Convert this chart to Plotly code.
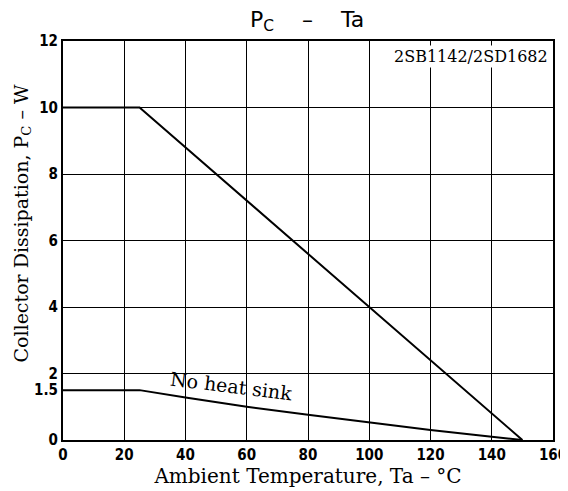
import plotly.graph_objects as go

# Data
temp_heatsink = [0, 25, 150]
pc_heatsink = [10, 10, 0]

temp_noheat = [0, 25, 40, 60, 80, 100, 120, 140, 150]
pc_noheat = [1.5, 1.5, 1.28, 1.0, 0.76, 0.52, 0.3, 0.1, 0]

x_ticks = [0, 20, 40, 60, 80, 100, 120, 140, 160]
y_grid = [0, 2, 4, 6, 8, 10, 12]
y_extra_label = 1.5

fig = go.Figure()
fig.add_trace(go.Scatter(x=temp_heatsink, y=pc_heatsink, mode="lines",
                         line=dict(color="black", width=2), showlegend=False))
fig.add_trace(go.Scatter(x=temp_noheat, y=pc_noheat, mode="lines",
                         line=dict(color="black", width=2), showlegend=False))

tickfont = dict(family="DejaVu Sans Condensed, Liberation Sans Narrow, Liberation Sans",
                size=15, color="black", weight="bold")
serif = "DejaVu Serif"

# page body has an 8px margin, so the figure is sized to fit inside it
fig.update_layout(
    width=560, height=483,
    margin=dict(l=55, r=15, t=33, b=51),
    paper_bgcolor="white", plot_bgcolor="white",
    title=dict(text="P<sub>C</sub>    –    Ta", x=0.534, xanchor="center",
               y=1 - 11 / 483, yanchor="middle", yref="container",
               font=dict(family="DejaVu Sans", size=22, color="black")),
    xaxis=dict(range=[0, 160], tickvals=x_ticks, showgrid=True, gridcolor="black", gridwidth=1.4,
               showline=True, linecolor="black", linewidth=2, mirror=True, zeroline=False,
               ticks="", tickfont=tickfont, automargin=False, ticklabeloverflow="allow",
               title=dict(text="Ambient Temperature, Ta – °C", standoff=4,
                          font=dict(family=serif, size=20, color="black"))),
    yaxis=dict(range=[0, 12], tickvals=y_grid, showgrid=True, gridcolor="black", gridwidth=1.4,
               showline=True, linecolor="black", linewidth=2, mirror=True, zeroline=False,
               ticks="", tickfont=tickfont, automargin=False, ticklabeloverflow="allow"),
    annotations=[
        dict(text="Collector Dissipation, P<sub>C</sub> – W", textangle=-90,
             x=0, xref="paper", xanchor="center", xshift=-41,
             y=0.5, yref="paper", yanchor="middle", yshift=17, showarrow=False,
             font=dict(family=serif, size=19, color="black")),
        dict(text=str(y_extra_label), x=0, xref="paper", xanchor="right", xshift=-3,
             y=y_extra_label, yref="y", showarrow=False, font=tickfont),
        dict(text="2SB1142/2SD1682", x=1, xref="paper", xanchor="right", xshift=-3,
             y=1, yref="paper", yanchor="top", yshift=-4, showarrow=False,
             bgcolor="white", font=dict(family=serif, size=16, color="black")),
        dict(text="No heat sink", x=55, y=1.62, xref="x", yref="y", showarrow=False,
             textangle=7, font=dict(family=serif, size=19, color="black")),
    ],
)

fig.write_html("out.html")
